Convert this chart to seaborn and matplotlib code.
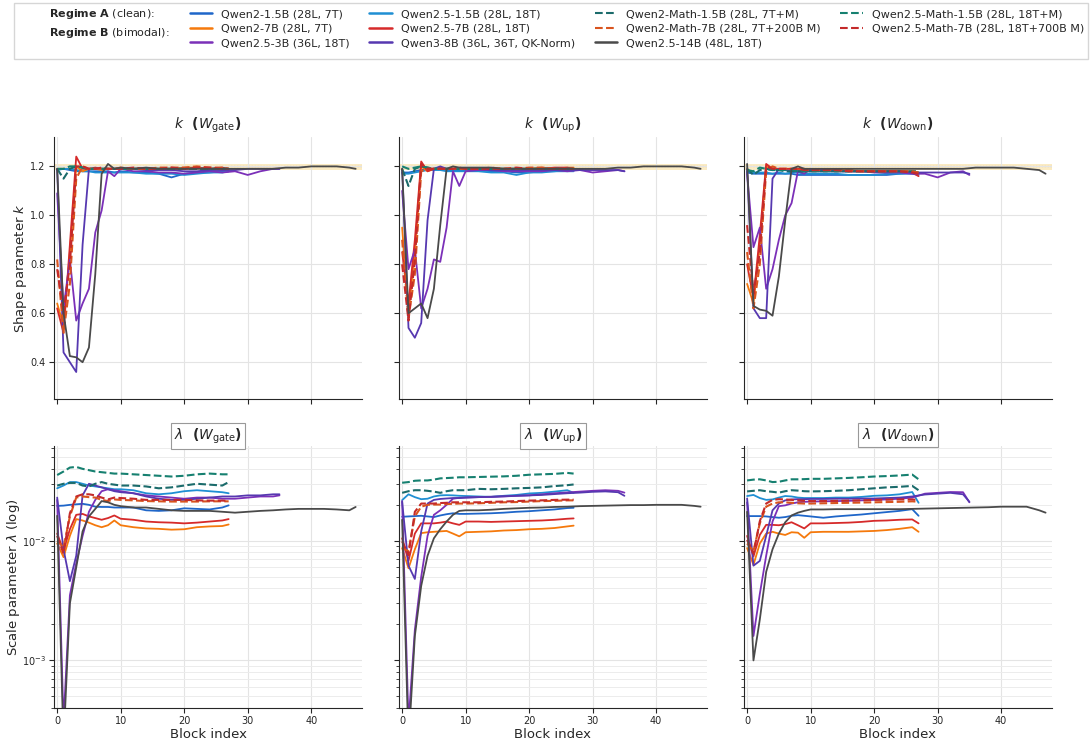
import matplotlib
matplotlib.use("Agg")
import matplotlib.pyplot as plt
from matplotlib.lines import Line2D
import seaborn as sns

# ---------------- block grids (block index) ----------------
X28 = [0, 1, 2, 3, 4, 5, 6, 7, 8, 9, 10, 12, 14, 16, 18, 20, 22, 24, 26, 27]
X36 = [0, 1, 2, 3, 4, 5, 6, 7, 8, 9, 10, 12, 14, 16, 18, 20, 22, 24, 26, 28, 30, 32, 34, 35]
X48 = [0, 1, 2, 3, 4, 5, 6, 7, 8, 9, 10, 12, 14, 16, 18, 20, 22, 24, 26, 28, 30, 32, 34, 36, 38,
       40, 42, 44, 46, 47]

# ---------------- shape parameter k, W_gate ----------------
kg_q2_15 = [1.19, 1.19, 1.185, 1.18, 1.18, 1.18, 1.18, 1.18, 1.18, 1.175, 1.18, 1.175, 1.175, 1.17, 1.155, 1.17, 1.175, 1.175, 1.18, 1.18]
kg_q25_15 = [1.185, 1.19, 1.19, 1.185, 1.18, 1.18, 1.175, 1.175, 1.175, 1.175, 1.175, 1.175, 1.17, 1.17, 1.17, 1.165, 1.17, 1.175, 1.175, 1.18]
kg_q2_7 = [0.64, 0.55, 0.85, 1.20, 1.18, 1.19, 1.19, 1.185, 1.19, 1.19, 1.19, 1.19, 1.19, 1.19, 1.19, 1.195, 1.195, 1.19, 1.19, 1.19]
kg_q25_7 = [0.62, 0.52, 0.88, 1.24, 1.19, 1.19, 1.195, 1.19, 1.19, 1.19, 1.19, 1.19, 1.19, 1.19, 1.19, 1.19, 1.195, 1.19, 1.195, 1.19]
kg_q2m_7 = [0.82, 0.52, 0.72, 1.15, 1.20, 1.19, 1.19, 1.19, 1.19, 1.19, 1.195, 1.19, 1.19, 1.195, 1.195, 1.195, 1.20, 1.195, 1.195, 1.19]
kg_q25m_7 = [0.78, 0.60, 0.80, 1.20, 1.20, 1.19, 1.19, 1.195, 1.19, 1.19, 1.19, 1.195, 1.19, 1.19, 1.195, 1.19, 1.195, 1.195, 1.19, 1.19]
kg_q2m_15 = [1.19, 1.15, 1.19, 1.20, 1.195, 1.19, 1.19, 1.19, 1.19, 1.19, 1.19, 1.19, 1.19, 1.19, 1.19, 1.19, 1.19, 1.19, 1.19, 1.19]
kg_q25m_15 = [1.19, 1.19, 1.20, 1.20, 1.195, 1.19, 1.19, 1.19, 1.19, 1.19, 1.19, 1.19, 1.19, 1.19, 1.19, 1.19, 1.19, 1.19, 1.19, 1.19]
kg_q25_3 = [1.09, 0.62, 0.82, 0.57, 0.64, 0.70, 0.93, 1.02, 1.18, 1.16, 1.19, 1.18, 1.18, 1.175, 1.175, 1.17, 1.175, 1.18, 1.175, 1.18, 1.165, 1.18, 1.19, 1.19]
kg_q3_8 = [1.19, 0.44, 0.40, 0.36, 0.88, 1.19, 1.19, 1.19, 1.19, 1.19, 1.19, 1.19, 1.185, 1.185, 1.185, 1.18, 1.18, 1.185, 1.185, 1.185, 1.19, 1.19, 1.19, 1.19]
kg_q25_14 = [1.19, 0.60, 0.425, 0.42, 0.40, 0.46, 0.76, 1.17, 1.21, 1.19, 1.195, 1.19, 1.195, 1.19, 1.19, 1.19, 1.19, 1.19, 1.19, 1.19, 1.19, 1.19, 1.19, 1.195, 1.195, 1.20, 1.20, 1.20, 1.195, 1.19]

# ---------------- shape parameter k, W_up ----------------
ku_q2_15 = [1.175, 1.175, 1.18, 1.185, 1.19, 1.19, 1.19, 1.185, 1.185, 1.185, 1.185, 1.185, 1.18, 1.18, 1.175, 1.175, 1.18, 1.18, 1.185, 1.185]
ku_q25_15 = [1.17, 1.17, 1.175, 1.18, 1.185, 1.185, 1.185, 1.18, 1.18, 1.18, 1.18, 1.18, 1.175, 1.175, 1.165, 1.175, 1.175, 1.18, 1.18, 1.18]
ku_q2_7 = [0.95, 0.60, 0.85, 1.20, 1.18, 1.19, 1.19, 1.19, 1.19, 1.19, 1.19, 1.19, 1.19, 1.19, 1.19, 1.19, 1.195, 1.19, 1.195, 1.195]
ku_q25_7 = [0.85, 0.64, 0.90, 1.22, 1.18, 1.19, 1.195, 1.19, 1.19, 1.19, 1.19, 1.19, 1.19, 1.19, 1.19, 1.19, 1.19, 1.195, 1.195, 1.19]
ku_q2m_7 = [0.90, 0.58, 0.76, 1.18, 1.19, 1.19, 1.19, 1.19, 1.19, 1.19, 1.19, 1.19, 1.195, 1.19, 1.19, 1.195, 1.195, 1.19, 1.19, 1.19]
ku_q25m_7 = [0.80, 0.57, 0.82, 1.21, 1.19, 1.19, 1.19, 1.19, 1.19, 1.195, 1.19, 1.19, 1.19, 1.19, 1.195, 1.19, 1.19, 1.19, 1.19, 1.19]
ku_q2m_15 = [1.19, 1.12, 1.19, 1.20, 1.195, 1.19, 1.19, 1.19, 1.19, 1.19, 1.19, 1.19, 1.19, 1.19, 1.19, 1.19, 1.19, 1.19, 1.19, 1.19]
ku_q25m_15 = [1.20, 1.19, 1.195, 1.20, 1.195, 1.19, 1.19, 1.19, 1.19, 1.19, 1.19, 1.19, 1.19, 1.19, 1.19, 1.19, 1.19, 1.19, 1.19, 1.19]
ku_q25_3 = [1.10, 0.78, 0.86, 0.62, 0.70, 0.82, 0.81, 0.95, 1.18, 1.12, 1.18, 1.185, 1.185, 1.18, 1.18, 1.18, 1.18, 1.185, 1.18, 1.185, 1.175, 1.18, 1.185, 1.18]
ku_q3_8 = [1.19, 0.54, 0.50, 0.56, 0.98, 1.19, 1.20, 1.19, 1.19, 1.19, 1.19, 1.19, 1.185, 1.185, 1.185, 1.185, 1.185, 1.185, 1.185, 1.185, 1.185, 1.185, 1.185, 1.18]
ku_q25_14 = [1.19, 0.60, 0.62, 0.64, 0.58, 0.70, 0.96, 1.19, 1.20, 1.195, 1.195, 1.195, 1.195, 1.19, 1.19, 1.19, 1.19, 1.19, 1.19, 1.19, 1.19, 1.19, 1.195, 1.195, 1.20, 1.20, 1.20, 1.20, 1.195, 1.19]

# ---------------- shape parameter k, W_down ----------------
kd_q2_15 = [1.175, 1.17, 1.17, 1.17, 1.17, 1.17, 1.17, 1.17, 1.165, 1.165, 1.165, 1.165, 1.165, 1.165, 1.165, 1.165, 1.165, 1.17, 1.17, 1.165]
kd_q25_15 = [1.18, 1.175, 1.175, 1.175, 1.17, 1.175, 1.17, 1.175, 1.175, 1.17, 1.17, 1.17, 1.17, 1.165, 1.165, 1.165, 1.17, 1.17, 1.175, 1.17]
kd_q2_7 = [0.72, 0.64, 0.88, 1.20, 1.19, 1.19, 1.19, 1.19, 1.185, 1.185, 1.185, 1.185, 1.185, 1.185, 1.18, 1.18, 1.18, 1.18, 1.18, 1.17]
kd_q25_7 = [0.80, 0.66, 0.92, 1.21, 1.19, 1.19, 1.19, 1.19, 1.19, 1.19, 1.185, 1.185, 1.185, 1.18, 1.18, 1.18, 1.18, 1.18, 1.175, 1.16]
kd_q2m_7 = [0.85, 0.62, 0.80, 1.18, 1.20, 1.19, 1.19, 1.19, 1.19, 1.19, 1.185, 1.185, 1.185, 1.185, 1.18, 1.18, 1.18, 1.18, 1.18, 1.175]
kd_q25m_7 = [0.96, 0.68, 0.85, 1.20, 1.19, 1.19, 1.19, 1.19, 1.19, 1.185, 1.185, 1.185, 1.185, 1.18, 1.18, 1.18, 1.18, 1.18, 1.175, 1.17]
kd_q2m_15 = [1.19, 1.165, 1.185, 1.19, 1.185, 1.185, 1.18, 1.18, 1.18, 1.18, 1.18, 1.18, 1.18, 1.18, 1.18, 1.18, 1.18, 1.18, 1.18, 1.18]
kd_q25m_15 = [1.185, 1.18, 1.195, 1.19, 1.185, 1.185, 1.185, 1.185, 1.18, 1.18, 1.18, 1.18, 1.18, 1.18, 1.18, 1.18, 1.18, 1.18, 1.18, 1.175]
kd_q25_3 = [1.17, 0.87, 0.95, 0.70, 0.78, 0.90, 1.00, 1.05, 1.18, 1.17, 1.19, 1.185, 1.18, 1.18, 1.18, 1.175, 1.175, 1.175, 1.17, 1.17, 1.155, 1.175, 1.18, 1.165]
kd_q3_8 = [1.19, 0.62, 0.58, 0.58, 1.15, 1.19, 1.185, 1.18, 1.18, 1.18, 1.18, 1.18, 1.18, 1.18, 1.18, 1.18, 1.18, 1.18, 1.175, 1.175, 1.175, 1.175, 1.175, 1.17]
kd_q25_14 = [1.21, 0.63, 0.615, 0.61, 0.59, 0.75, 0.98, 1.19, 1.20, 1.19, 1.19, 1.19, 1.19, 1.19, 1.19, 1.19, 1.19, 1.19, 1.19, 1.19, 1.19, 1.19, 1.19, 1.195, 1.195, 1.195, 1.195, 1.19, 1.185, 1.17]

# ---------------- scale parameter lambda, W_gate ----------------
lg_q2_15 = [0.0196, 0.0197, 0.0200, 0.0202, 0.0204, 0.0200, 0.0193, 0.0192, 0.0192, 0.0190, 0.0190, 0.0190, 0.0180, 0.0178, 0.0180, 0.0187, 0.0185, 0.0183, 0.0190, 0.0198]
lg_q25_15 = [0.0275, 0.0290, 0.0310, 0.0310, 0.0300, 0.0290, 0.0285, 0.0280, 0.0275, 0.0270, 0.0270, 0.0265, 0.0250, 0.0245, 0.0250, 0.0260, 0.0265, 0.0260, 0.0255, 0.0250]
lg_q2_7 = [0.0095, 0.0073, 0.0110, 0.0152, 0.0148, 0.0142, 0.0135, 0.0130, 0.0135, 0.0148, 0.0135, 0.0130, 0.0127, 0.0126, 0.0124, 0.0125, 0.0130, 0.0132, 0.0133, 0.0137]
lg_q25_7 = [0.0115, 0.0083, 0.0125, 0.0165, 0.0168, 0.0160, 0.0155, 0.0150, 0.0155, 0.0163, 0.0153, 0.0150, 0.0145, 0.0143, 0.0142, 0.0140, 0.0142, 0.0145, 0.0148, 0.0152]
lg_q2m_7 = [0.0100, 0.0088, 0.0160, 0.0230, 0.0235, 0.0232, 0.0230, 0.0220, 0.0215, 0.0222, 0.0220, 0.0218, 0.0215, 0.0214, 0.0213, 0.0213, 0.0213, 0.0214, 0.0214, 0.0214]
lg_q25m_7 = [0.0110, 0.0078, 0.0170, 0.0235, 0.0245, 0.0245, 0.0240, 0.0230, 0.0222, 0.0230, 0.0228, 0.0225, 0.0220, 0.0220, 0.0220, 0.0220, 0.0218, 0.0217, 0.0217, 0.0216]
lg_q2m_15 = [0.0290, 0.0300, 0.0305, 0.0305, 0.0290, 0.0285, 0.0300, 0.0310, 0.0300, 0.0295, 0.0290, 0.0290, 0.0285, 0.0275, 0.0280, 0.0290, 0.0300, 0.0295, 0.0290, 0.0310]
lg_q25m_15 = [0.0355, 0.0380, 0.0410, 0.0415, 0.0400, 0.0390, 0.0380, 0.0375, 0.0370, 0.0365, 0.0365, 0.0360, 0.0355, 0.0350, 0.0345, 0.0350, 0.0360, 0.0365, 0.0360, 0.0360]
lg_q25_3 = [0.0220, 0.0003, 0.0035, 0.0065, 0.0110, 0.0175, 0.0220, 0.0260, 0.0270, 0.0265, 0.0260, 0.0250, 0.0240, 0.0235, 0.0230, 0.0225, 0.0230, 0.0230, 0.0225, 0.0225, 0.0230, 0.0235, 0.0235, 0.0240]
lg_q3_8 = [0.0230, 0.0085, 0.0046, 0.0075, 0.0240, 0.0300, 0.0290, 0.0280, 0.0270, 0.0260, 0.0255, 0.0250, 0.0235, 0.0225, 0.0220, 0.0220, 0.0225, 0.0230, 0.0235, 0.0235, 0.0240, 0.0240, 0.0245, 0.0245]
lg_q25_14 = [0.0162, 0.0002, 0.0030, 0.0060, 0.0120, 0.0160, 0.0185, 0.0215, 0.0210, 0.0200, 0.0195, 0.0190, 0.0190, 0.0185, 0.0180, 0.0178, 0.0178, 0.0178, 0.0175, 0.0172, 0.0175, 0.0178, 0.0180, 0.0183, 0.0185, 0.0185, 0.0185, 0.0183, 0.0180, 0.0192]

# ---------------- scale parameter lambda, W_up ----------------
lu_q2_15 = [0.0159, 0.0160, 0.0161, 0.0162, 0.0160, 0.0158, 0.0163, 0.0167, 0.0170, 0.0168, 0.0168, 0.0169, 0.0170, 0.0172, 0.0175, 0.0177, 0.0180, 0.0183, 0.0188, 0.0189]
lu_q25_15 = [0.0219, 0.0245, 0.0232, 0.0223, 0.0225, 0.0235, 0.0240, 0.0241, 0.0240, 0.0238, 0.0237, 0.0235, 0.0233, 0.0238, 0.0242, 0.0249, 0.0252, 0.0258, 0.0265, 0.0252]
lu_q2_7 = [0.0087, 0.0059, 0.0085, 0.0116, 0.0118, 0.0119, 0.0120, 0.0121, 0.0115, 0.0109, 0.0118, 0.0119, 0.0120, 0.0122, 0.0123, 0.0125, 0.0126, 0.0128, 0.0132, 0.0134]
lu_q25_7 = [0.0105, 0.0068, 0.0115, 0.0140, 0.0140, 0.0140, 0.0142, 0.0145, 0.0140, 0.0136, 0.0145, 0.0145, 0.0144, 0.0145, 0.0146, 0.0147, 0.0148, 0.0150, 0.0153, 0.0154]
lu_q2m_7 = [0.0087, 0.0082, 0.0160, 0.0193, 0.0200, 0.0201, 0.0201, 0.0203, 0.0204, 0.0205, 0.0205, 0.0206, 0.0208, 0.0210, 0.0211, 0.0213, 0.0215, 0.0216, 0.0218, 0.0218]
lu_q25m_7 = [0.0099, 0.0076, 0.0175, 0.0205, 0.0205, 0.0205, 0.0207, 0.0208, 0.0210, 0.0210, 0.0210, 0.0210, 0.0212, 0.0213, 0.0215, 0.0217, 0.0218, 0.0220, 0.0221, 0.0221]
lu_q2m_15 = [0.0252, 0.0260, 0.0265, 0.0265, 0.0262, 0.0258, 0.0252, 0.0260, 0.0265, 0.0265, 0.0265, 0.0272, 0.0270, 0.0272, 0.0275, 0.0277, 0.0280, 0.0287, 0.0292, 0.0296]
lu_q25m_15 = [0.0306, 0.0310, 0.0318, 0.0320, 0.0320, 0.0325, 0.0333, 0.0335, 0.0337, 0.0340, 0.0340, 0.0342, 0.0344, 0.0346, 0.0350, 0.0357, 0.0360, 0.0363, 0.0370, 0.0365]
lu_q25_3 = [0.0215, 0.0003, 0.0018, 0.0050, 0.0110, 0.0165, 0.0180, 0.0200, 0.0225, 0.0229, 0.0230, 0.0232, 0.0233, 0.0235, 0.0238, 0.0240, 0.0245, 0.0250, 0.0254, 0.0258, 0.0262, 0.0265, 0.0262, 0.0253]
lu_q3_8 = [0.0212, 0.0062, 0.0048, 0.0120, 0.0205, 0.0220, 0.0224, 0.0226, 0.0228, 0.0228, 0.0230, 0.0232, 0.0234, 0.0236, 0.0238, 0.0240, 0.0242, 0.0246, 0.0250, 0.0253, 0.0257, 0.0259, 0.0255, 0.0238]
lu_q25_14 = [0.0150, 0.0002, 0.0016, 0.0042, 0.0075, 0.0105, 0.0125, 0.0145, 0.0165, 0.0178, 0.0180, 0.0180, 0.0182, 0.0185, 0.0187, 0.0189, 0.0190, 0.0192, 0.0193, 0.0195, 0.0196, 0.0197, 0.0198, 0.0199, 0.0199, 0.0200, 0.0200, 0.0200, 0.0196, 0.0193]

# ---------------- scale parameter lambda, W_down ----------------
ld_q2_15 = [0.0161, 0.0161, 0.0161, 0.0160, 0.0158, 0.0156, 0.0158, 0.0162, 0.0164, 0.0162, 0.0160, 0.0156, 0.0160, 0.0163, 0.0166, 0.0170, 0.0174, 0.0178, 0.0184, 0.0162]
ld_q25_15 = [0.0237, 0.0242, 0.0228, 0.0220, 0.0222, 0.0230, 0.0237, 0.0235, 0.0230, 0.0228, 0.0228, 0.0228, 0.0230, 0.0230, 0.0233, 0.0238, 0.0240, 0.0245, 0.0256, 0.0208]
ld_q2_7 = [0.0087, 0.0063, 0.0095, 0.0115, 0.0119, 0.0115, 0.0112, 0.0118, 0.0117, 0.0106, 0.0118, 0.0119, 0.0119, 0.0119, 0.0120, 0.0121, 0.0123, 0.0126, 0.0130, 0.0119]
ld_q25_7 = [0.0110, 0.0074, 0.0112, 0.0136, 0.0136, 0.0135, 0.0138, 0.0143, 0.0135, 0.0127, 0.0140, 0.0140, 0.0141, 0.0142, 0.0144, 0.0147, 0.0148, 0.0150, 0.0151, 0.0140]
ld_q2m_7 = [0.0095, 0.0082, 0.0140, 0.0193, 0.0205, 0.0210, 0.0210, 0.0208, 0.0206, 0.0205, 0.0205, 0.0206, 0.0207, 0.0208, 0.0209, 0.0210, 0.0211, 0.0212, 0.0214, 0.0212]
ld_q25m_7 = [0.0102, 0.0078, 0.0146, 0.0205, 0.0220, 0.0223, 0.0222, 0.0220, 0.0218, 0.0216, 0.0215, 0.0215, 0.0216, 0.0217, 0.0218, 0.0220, 0.0221, 0.0222, 0.0222, 0.0219]
ld_q2m_15 = [0.0259, 0.0262, 0.0265, 0.0260, 0.0257, 0.0253, 0.0260, 0.0265, 0.0263, 0.0260, 0.0259, 0.0260, 0.0262, 0.0265, 0.0270, 0.0275, 0.0280, 0.0283, 0.0288, 0.0265]
ld_q25m_15 = [0.0320, 0.0325, 0.0327, 0.0320, 0.0310, 0.0312, 0.0320, 0.0327, 0.0327, 0.0328, 0.0330, 0.0330, 0.0333, 0.0336, 0.0340, 0.0345, 0.0348, 0.0352, 0.0358, 0.0327]
ld_q25_3 = [0.0210, 0.0016, 0.0036, 0.0075, 0.0145, 0.0195, 0.0198, 0.0205, 0.0210, 0.0212, 0.0213, 0.0214, 0.0215, 0.0216, 0.0218, 0.0220, 0.0222, 0.0225, 0.0230, 0.0248, 0.0252, 0.0256, 0.0255, 0.0210]
ld_q3_8 = [0.0226, 0.0062, 0.0068, 0.0110, 0.0180, 0.0205, 0.0218, 0.0222, 0.0223, 0.0223, 0.0224, 0.0224, 0.0225, 0.0225, 0.0226, 0.0226, 0.0228, 0.0230, 0.0235, 0.0244, 0.0248, 0.0252, 0.0245, 0.0212]
ld_q25_14 = [0.0175, 0.0010, 0.0022, 0.0055, 0.0085, 0.0115, 0.0143, 0.0163, 0.0172, 0.0178, 0.0183, 0.0183, 0.0184, 0.0184, 0.0184, 0.0184, 0.0184, 0.0184, 0.0185, 0.0186, 0.0187, 0.0188, 0.0189, 0.0190, 0.0191, 0.0193, 0.0193, 0.0193, 0.0180, 0.0172]

# ---------------- models: key, label, colour, dashed, grid ----------------
MODEL_KEYS = ["q2_15", "q25_15", "q2_7", "q25_7", "q25_3", "q3_8",
              "q2m_15", "q25m_15", "q2m_7", "q25m_7", "q25_14"]
MODEL_LABELS = ["Qwen2-1.5B (28L, 7T)", "Qwen2.5-1.5B (28L, 18T)", "Qwen2-7B (28L, 7T)",
                "Qwen2.5-7B (28L, 18T)", "Qwen2.5-3B (36L, 18T)", "Qwen3-8B (36L, 36T, QK-Norm)",
                "Qwen2-Math-1.5B (28L, 7T+M)", "Qwen2.5-Math-1.5B (28L, 18T+M)",
                "Qwen2-Math-7B (28L, 7T+200B M)", "Qwen2.5-Math-7B (28L, 18T+700B M)",
                "Qwen2.5-14B (48L, 18T)"]
MODEL_COLORS = ["#1f66c9", "#1f8fd3", "#f5790c", "#d62a2a", "#7b30b8", "#5638b0",
                "#1b6b6b", "#168070", "#d9541e", "#c42a2a", "#4a4a4a"]
MODEL_DASHED = [False, False, False, False, False, False, True, True, True, True, False]
MODEL_GRID = [X28, X28, X28, X28, X36, X36, X28, X28, X28, X28, X48]

ROW_PREFIX = [["kg", "ku", "kd"], ["lg", "lu", "ld"]]
MATS = ["gate", "up", "down"]

sns.set_style("ticks")
plt.rcParams["font.family"] = ["DejaVu Sans"]
plt.rcParams["mathtext.fontset"] = "dejavusans"

fig, axes = plt.subplots(2, 3, figsize=(10.91, 7.43), dpi=100, sharex=True, sharey="row")
fig.subplots_adjust(left=0.0495, right=0.9642, top=0.8156, bottom=0.0471, wspace=0.12, hspace=0.18)

G = globals()
for r in range(2):
    for c in range(3):
        ax = axes[r, c]
        pre = ROW_PREFIX[r][c]
        if r == 0:
            ax.axhspan(1.187, 1.208, color="#fbe7b5", alpha=0.8, zorder=0, lw=0)
            ax.axhline(1.2, color="#888888", ls=":", lw=0.8, zorder=0.5)
        for key, col, dashed, grid in zip(MODEL_KEYS, MODEL_COLORS, MODEL_DASHED, MODEL_GRID):
            vals = G[f"{pre}_{key}"]
            sns.lineplot(x=grid, y=vals, ax=ax, color=col,
                         linestyle="--" if dashed else "-",
                         linewidth=1.5 if dashed else 1.3, legend=False)
        ax.set_xlim(-0.5, 48)
        ax.set_axisbelow(True)
        ax.grid(True, which="major", color="#e4e4e4", lw=0.8)
        sns.despine(ax=ax)
        ax.tick_params(labelsize=7, length=3.5, width=0.8, pad=2.5)
        ax.set_ylabel("")
        ax.set_xlabel("")
        if r == 0:
            ax.set_ylim(0.25, 1.32)
            ax.set_title(r"$k$  ($W_{\mathrm{%s}}$)" % MATS[c], fontsize=10,
                         fontweight="bold", pad=6)
        else:
            ax.set_yscale("log")
            ax.set_ylim(4e-4, 0.062)
            ax.grid(True, which="minor", axis="y", color="#ececec", lw=0.7)
            ax.tick_params(which="minor", length=2, width=0.6)
            ax.set_title(r"$\lambda$  ($W_{\mathrm{%s}}$)" % MATS[c], fontsize=10,
                         fontweight="bold", pad=5,
                         bbox=dict(boxstyle="square,pad=0.25", facecolor="white",
                                   edgecolor="#999999", lw=0.8))
            ax.set_xlabel("Block index", fontsize=9.5, labelpad=1)

axes[0, 0].set_ylabel(r"Shape parameter $k$", fontsize=9.5, labelpad=1)
axes[1, 0].set_ylabel(r"Scale parameter $\lambda$ (log)", fontsize=9.5, labelpad=0)

# ---------------- legend ----------------
def mk(i):
    return Line2D([], [], color=MODEL_COLORS[i], lw=1.5 if MODEL_DASHED[i] else 1.8,
                  ls="--" if MODEL_DASHED[i] else "-")

blank = Line2D([], [], color="none")
order = [0, 2, 4, 1, 3, 5, 6, 8, 10, 7, 9]
handles = [blank, blank, blank] + [mk(i) for i in order[:9]] + [mk(7), mk(9), blank]
labels = [r"$\mathbf{Regime\ A}$ (clean):", r"$\mathbf{Regime\ B}$ (bimodal):", " "] + \
         [MODEL_LABELS[i] for i in order[:9]] + [MODEL_LABELS[7], MODEL_LABELS[9], " "]
fig.legend(handles, labels, loc="upper center", bbox_to_anchor=(0.505, 1.004), ncol=5,
           fontsize=8.0, frameon=True, fancybox=False, edgecolor="#cccccc",
           columnspacing=1.8, labelspacing=0.42)

fig.savefig("out.png", dpi=100)
